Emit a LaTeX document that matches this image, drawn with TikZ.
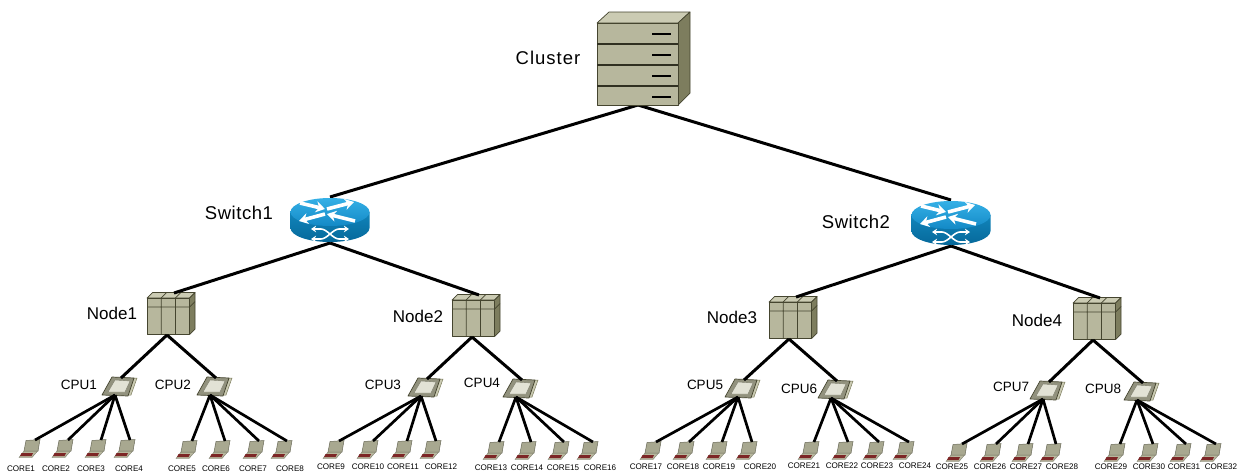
\documentclass[tikz,border=0pt]{standalone}
\usepackage{fontspec}
\setmainfont{Liberation Sans}
\usetikzlibrary{arrows.meta}
\definecolor{fr}{HTML}{B7B79D}
\definecolor{tp}{HTML}{CBCBB3}
\definecolor{sd}{HTML}{7D7D5E}
\definecolor{edgec}{HTML}{45452F}
\definecolor{rtopa}{HTML}{35B0E6}
\definecolor{rtopb}{HTML}{1389C6}
\definecolor{rsidea}{HTML}{1185BB}
\definecolor{rsideb}{HTML}{06689A}
\tikzset{
 x=1pt,y=-1pt,
 anchorbox/.style={inner sep=0pt,outer sep=0pt,draw=none,fill=none},
 link/.style={draw=black,line width=3pt},
 corelink/.style={draw=black,line width=2.7pt},
 lblB/.style={inner sep=0pt,font=\fontsize{17}{17}\selectfont},
 lblC/.style={inner sep=0pt,font=\fontsize{13.5}{14}\selectfont},
 lblD/.style={inner sep=0pt,font=\fontsize{8.1}{9}\selectfont},
 ic/.style={draw=edgec,line width=0.7pt,line join=round},
 cab/.pic={
  \path[ic,fill=tp] (0,0)--(12,-11)--(93,-11)--(81,0)--cycle;
  \path[ic,fill=sd] (81,0)--(93,-11)--(93,70)--(81,82)--cycle;
  \path[ic,fill=fr] (0,0) rectangle (81,82);
  \foreach \yy in {21,42,63}{\draw[edgec!70!black,line width=1.4pt] (0,\yy)--(81,\yy);}
  \foreach \yy in {11,32,53,74}{\draw[black,line width=2pt] (55,\yy)--(74,\yy);}
 },
 router/.pic={
  \path[top color=rsidea,bottom color=rsideb] (-39.5,0)--(-39.5,16) arc[x radius=39.5,y radius=14,start angle=180,end angle=0]--(39.5,0)--cycle;
  \path[top color=rtopa,bottom color=rtopb] (0,0) ellipse[x radius=39.5,y radius=14];
  \begin{scope}[white,line width=3.6pt,-{Stealth[length=9pt,width=11pt]}]
   \draw (-30,-9)--(-5,-3);
   \draw (-3,-3)--(24,-10);
   \draw (-5,2)--(-31,9);
   \draw (25,9)--(-3,2);
  \end{scope}
  \begin{scope}[white,line width=1.6pt,{Stealth[length=5pt,width=6.5pt]}-{Stealth[length=5pt,width=6.5pt]}]
   \draw (-19,17)--(-9,17) .. controls (-3,17) and (3,27) .. (9,27)--(19,27);
   \draw (-19,27)--(-9,27) .. controls (-3,27) and (3,17) .. (9,17)--(19,17);
  \end{scope}
 },
 box/.pic={
  \path[ic,fill=tp] (0,0)--(5.5,-5.5)--(48,-5.5)--(42.5,0)--cycle;
  \path[ic,fill=sd] (42.5,0)--(48,-5.5)--(48,31)--(42.5,36.5)--cycle;
  \path[ic,fill=fr] (0,0) rectangle (42.5,36.5);
  \draw[ic] (0,9)--(42.5,9) (14.2,0)--(14.2,36.5) (28.4,0)--(28.4,36.5) (14.2,0)--(19.7,-5.5) (28.4,0)--(33.9,-5.5) (42.5,9)--(48,3.5);
 },
 chip/.pic={
  \path[draw=sd,line width=0.5pt,fill=tp] (15,-9)--(18,-9)--(12,8)--(9,8)--cycle;
  \path[ic,fill=fr!80!black] (-7,-10)--(15,-9)--(9,9)--(-17,8)--cycle;
  \path[draw=edgec!70,line width=0.4pt,fill=tp!55!white] (-4,-7)--(11,-6)--(6,5)--(-11,5)--cycle;
 },
 corepc/.pic={
  \path[draw=edgec!70,line width=0.4pt,fill=fr] (-6.5,2.5)--(7,2.5)--(1,9.5)--(-12,9.5)--cycle;
  \path[draw=edgec!80,line width=0.5pt,fill=fr!92!black] (-5,-7.5)--(9,-8.5)--(7,3)--(-7,3)--cycle;
  \path[fill=red!40!black!85!white] (-9.5,5)--(2,5)--(0.5,8)--(-11,8)--cycle;
 }
}
\newcommand\cpuitem[7]{\node[anchorbox,minimum width=24pt,minimum height=18pt] (#1) at (#2+2,#3) {};\coordinate (#1b) at (#2-4,#3+8);\pic at (#2,#3) {chip};\node[lblC] (#4) at (#5,#6) {#7};}
\newcommand\boxitem[7]{\node[anchorbox,minimum width=44pt,minimum height=42pt] (#1) at (#2+20,#3+16) {};\coordinate (#1t) at (#2+27,#3-5);\pic at (#2,#3) {box};\node[lblB] (#4) at (#5,#6) {#7};}
\newcommand\coreitem[6]{\node[anchorbox,minimum width=14pt,minimum height=16pt] (c#1) at (#2+4,#3) {};\pic at (#2,#3) {corepc};\node[lblD] (t#1) at (#4,#5) {CORE#1};\draw[corelink] (#6) -- (c#1.north);}
\begin{document}
\begin{tikzpicture}
\useasboundingbox (0,0) rectangle (1240,472);
\fill[white] (0,0) rectangle (1240,472);
\node[anchorbox,minimum width=84pt,minimum height=94pt] (cluster) at (638,58) {};
\node[anchorbox] (clusterlbl) at (548,58) {\fontsize{18.5}{18}\selectfont\addfontfeature{LetterSpace=5.5}Cluster};
\node[anchorbox,minimum width=79pt,minimum height=46pt] (sw1) at (330,220) {};
\node[anchorbox,minimum width=79pt,minimum height=46pt] (sw2) at (951,223) {};
\node[anchorbox] (sw1lbl) at (239,213) {\fontsize{18.5}{18}\selectfont\addfontfeature{LetterSpace=3}Switch1};
\node[anchorbox] (sw2lbl) at (856,222) {\fontsize{18.5}{18}\selectfont\addfontfeature{LetterSpace=3}Switch2};
\boxitem{n1}{147}{298}{n1l}{112}{313}{Node1}
\boxitem{n2}{452}{300}{n2l}{418}{316}{Node2}
\boxitem{n3}{769}{302}{n3l}{732}{317}{Node3}
\boxitem{n4}{1073}{303}{n4l}{1037}{320}{Node4}
\cpuitem{p1}{119}{387}{p1l}{79}{385}{CPU1}
\cpuitem{p2}{214}{387}{p2l}{173}{385}{CPU2}
\cpuitem{p3}{425}{388}{p3l}{383}{385}{CPU3}
\cpuitem{p4}{520}{389}{p4l}{482}{383}{CPU4}
\cpuitem{p5}{742}{389}{p5l}{705}{385}{CPU5}
\cpuitem{p6}{835}{390}{p6l}{799}{389}{CPU6}
\cpuitem{p7}{1047}{391}{p7l}{1011}{387}{CPU7}
\cpuitem{p8}{1141}{392}{p8l}{1103}{389}{CPU8}
\draw[link] (cluster.south) -- (sw1.north);
\draw[link] (cluster.south) -- (sw2.north);
\draw[link] (sw1.south) -- (n1t);
\draw[link] (sw1.south) -- (n2t);
\draw[link] (sw2.south) -- (n3t);
\draw[link] (sw2.south) -- (n4t);
\foreach \a/\b/\c in {n1/p1/p2,n2/p3/p4,n3/p5/p6,n4/p7/p8}{
 \draw[link] (\a.south) -- (\b.north);
 \draw[link] (\a.south) -- (\c.north);
}
\coreitem{1}{31}{448}{21}{469}{p1b}
\coreitem{2}{64}{448}{56}{469}{p1b}
\coreitem{3}{97}{448}{91}{469}{p1b}
\coreitem{4}{126}{448}{129}{469}{p1b}
\coreitem{5}{188}{449}{182}{469}{p2b}
\coreitem{6}{221}{449}{216}{469}{p2b}
\coreitem{7}{255}{449}{253}{469}{p2b}
\coreitem{8}{283}{449}{290}{469}{p2b}
\coreitem{9}{335}{449}{331}{467}{p3b}
\coreitem{10}{369}{449}{368}{467}{p3b}
\coreitem{11}{403}{449}{403}{467}{p3b}
\coreitem{12}{432}{449}{441}{467}{p3b}
\coreitem{13}{495}{450}{491}{468}{p4b}
\coreitem{14}{527}{450}{527}{468}{p4b}
\coreitem{15}{560}{450}{563}{468}{p4b}
\coreitem{16}{589}{450}{600}{468}{p4b}
\coreitem{17}{652}{450}{646}{467}{p5b}
\coreitem{18}{685}{450}{683}{467}{p5b}
\coreitem{19}{718}{450}{719}{467}{p5b}
\coreitem{20}{748}{450}{760}{467}{p5b}
\coreitem{21}{810}{450}{804}{466}{p6b}
\coreitem{22}{844}{450}{842}{466}{p6b}
\coreitem{23}{875}{450}{877}{466}{p6b}
\coreitem{24}{905}{450}{915}{466}{p6b}
\coreitem{25}{958}{452}{952}{467}{p7b}
\coreitem{26}{992}{452}{990}{467}{p7b}
\coreitem{27}{1024}{452}{1026}{467}{p7b}
\coreitem{28}{1052}{452}{1062}{467}{p7b}
\coreitem{29}{1116}{452}{1111}{467}{p8b}
\coreitem{30}{1149}{452}{1149}{467}{p8b}
\coreitem{31}{1182}{452}{1184}{467}{p8b}
\coreitem{32}{1212}{452}{1221}{467}{p8b}
\pic at (597,23) {cab};
\pic at (330,212) {router};
\pic at (951,215) {router};
\end{tikzpicture}
\end{document}
